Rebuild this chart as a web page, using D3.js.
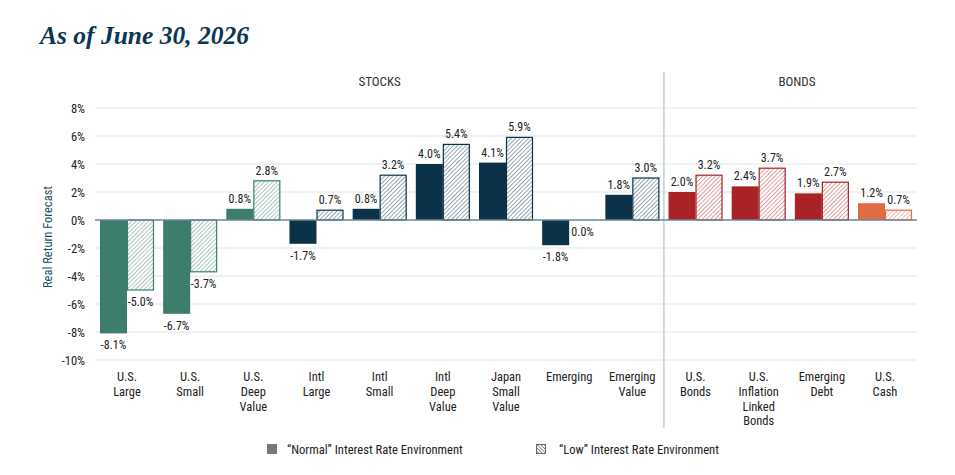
<!DOCTYPE html>
<html>
<head>
<meta charset="utf-8">
<script src="https://cdn.jsdelivr.net/npm/d3@7"></script>
<style>
  body { margin: 0; background: #fff; }
  svg { display: block; }
</style>
</head>
<body>
<div id="viz"></div>
<script>
let w = 955;
let h = 475;

// data
let categories = [
  ["U.S.", "Large"], ["U.S.", "Small"], ["U.S.", "Deep", "Value"], ["Intl", "Large"],
  ["Intl", "Small"], ["Intl", "Deep", "Value"], ["Japan", "Small", "Value"], ["Emerging"],
  ["Emerging", "Value"], ["U.S.", "Bonds"], ["U.S.", "Inflation", "Linked", "Bonds"],
  ["Emerging", "Debt"], ["U.S.", "Cash"]
];
let normalRates = [-8.1, -6.7, 0.8, -1.7, 0.8, 4.0, 4.1, -1.8, 1.8, 2.0, 2.4, 1.9, 1.2];
let lowRates = [-5.0, -3.7, 2.8, 0.7, 3.2, 5.4, 5.9, 0.0, 3.0, 3.2, 3.7, 2.7, 0.7];
let colorGroup = ["us", "us", "us", "intl", "intl", "intl", "intl", "intl", "intl", "bond", "bond", "bond", "cash"];
let yTicks = [8, 6, 4, 2, 0, -2, -4, -6, -8, -10];
let stockCount = 9;

let colors = { us: "#3c7d6b", intl: "#0c3249", bond: "#a82226", cash: "#e06c45" };

let svg = d3.select("#viz").append("svg")
  .attr("width", w)
  .attr("height", h);

let defs = svg.append("defs");
Object.keys(colors).forEach(function(k){
  let p = defs.append("pattern")
    .attr("id", "hatch-" + k)
    .attr("patternUnits", "userSpaceOnUse")
    .attr("width", 3)
    .attr("height", 3)
    .attr("patternTransform", "rotate(45)");
  p.append("rect").attr("width", 3).attr("height", 3).attr("fill", "#fff");
  p.append("line")
    .attr("x1", 0).attr("y1", 0).attr("x2", 0).attr("y2", 3)
    .attr("stroke", colors[k])
    .attr("stroke-width", 1.1)
    .attr("opacity", 0.8);
});
let lp = defs.append("pattern")
  .attr("id", "hatch-legend")
  .attr("patternUnits", "userSpaceOnUse")
  .attr("width", 2.5)
  .attr("height", 2.5)
  .attr("patternTransform", "rotate(-45)");
lp.append("rect").attr("width", 2.5).attr("height", 2.5).attr("fill", "#fff");
lp.append("line").attr("x1", 0).attr("y1", 0).attr("x2", 0).attr("y2", 2.5)
  .attr("stroke", "#555").attr("stroke-width", 1.3);

let font = "'Liberation Sans Narrow', 'Roboto Condensed', 'Arial Narrow', 'Liberation Sans', sans-serif";

// title
svg.append("text")
  .attr("x", 40)
  .attr("y", 44)
  .attr("font-family", "'Liberation Serif', 'DejaVu Serif', serif")
  .attr("font-style", "italic")
  .attr("font-weight", "bold")
  .attr("font-size", "25.5px")
  .attr("fill", "#0c3654")
  .text("As of June 30, 2026");

// scales
let xScale = d3.scaleBand()
  .domain(d3.range(categories.length))
  .range([95.4, 916.6])
  .paddingInner(0)
  .paddingOuter(0);

let yScale = d3.scaleLinear().domain([-10, 8]).range([360, 108]);

let barW = 27;

// grid
let gridGroup = svg.append("g").attr("class", "grid");
gridGroup.selectAll("line").data(yTicks).enter()
  .append("line")
    .attr("x1", 95)
    .attr("x2", 917)
    .attr("y1", d => yScale(d))
    .attr("y2", d => yScale(d))
    .attr("stroke", "#dbe5e8")
    .attr("stroke-width", 1.2);

// y axis labels
let yAxisGroup = svg.append("g").attr("class", "yAxisGroup");
yAxisGroup.selectAll("text").data(yTicks).enter()
  .append("text")
    .attr("x", 85)
    .attr("y", d => yScale(d) + 4.5)
    .attr("text-anchor", "end")
    .attr("font-family", font)
    .attr("font-size", "12.5px")
    .attr("fill", "#222")
    .text(d => d + "%");

svg.append("text")
  .attr("transform", "rotate(-90)")
  .attr("x", -237)
  .attr("y", 52)
  .attr("text-anchor", "middle")
  .attr("font-family", font)
  .attr("font-size", "12.5px")
  .attr("fill", "#1f4f68")
  .text("Real Return Forecast");

// divider between stocks and bonds
let divX = xScale(stockCount);
svg.append("line")
  .attr("x1", divX).attr("x2", divX)
  .attr("y1", 72).attr("y2", 428)
  .attr("stroke", "#c8cccd")
  .attr("stroke-width", 1.5);

svg.append("text")
  .attr("x", (xScale(0) + divX) / 2)
  .attr("y", 86)
  .attr("text-anchor", "middle")
  .attr("font-family", font)
  .attr("font-size", "13px")
  .attr("fill", "#333")
  .text("STOCKS");

svg.append("text")
  .attr("x", (divX + 930) / 2)
  .attr("y", 86)
  .attr("text-anchor", "middle")
  .attr("font-family", font)
  .attr("font-size", "13px")
  .attr("fill", "#333")
  .text("BONDS");

// bars
let barData = [];
categories.forEach(function(c, i){
  barData.push({ i: i, kind: "normal", v: normalRates[i], g: colorGroup[i] });
  barData.push({ i: i, kind: "low", v: lowRates[i], g: colorGroup[i] });
});

function barX(d){
  let c = xScale(d.i) + xScale.bandwidth() / 2;
  return d.kind == "normal" ? c - barW : c;
}

let barGroup = svg.append("g").attr("class", "bars");
barGroup.selectAll("rect").data(barData).enter()
  .append("rect")
    .attr("x", d => d.kind == "normal" ? barX(d) : barX(d) + 0.5)
    .attr("y", d => yScale(Math.max(0, d.v)))
    .attr("width", d => d.kind == "normal" ? barW : barW - 1)
    .attr("height", d => Math.abs(yScale(d.v) - yScale(0)))
    .attr("fill", d => d.kind == "normal" ? colors[d.g] : "url(#hatch-" + d.g + ")")
    .attr("stroke", d => d.kind == "normal" ? "none" : colors[d.g])
    .attr("stroke-width", 1.2);

// zero line
svg.append("line")
  .attr("x1", 95).attr("x2", 917)
  .attr("y1", yScale(0)).attr("y2", yScale(0))
  .attr("stroke", "#6d8b9a")
  .attr("stroke-width", 1.3);

// value labels
barGroup.selectAll(".val").data(barData).enter()
  .append("text")
    .attr("class", "val")
    .attr("x", d => barX(d) + barW / 2)
    .attr("y", d => d.v > 0 ? yScale(d.v) - 6 : yScale(d.v) + 16)
    .attr("text-anchor", "middle")
    .attr("font-family", font)
    .attr("font-size", "12px")
    .attr("fill", "#222")
    .text(d => d.v.toFixed(1) + "%");

// x labels
let xLabels = svg.append("g").attr("class", "xLabels");
xLabels.selectAll("text").data(categories).enter()
  .append("text")
    .attr("x", (d, i) => xScale(i) + xScale.bandwidth() / 2)
    .attr("y", 381)
    .attr("text-anchor", "middle")
    .attr("font-family", font)
    .attr("font-size", "12.5px")
    .attr("fill", "#222")
    .each(function(d){
      let t = d3.select(this);
      d.forEach(function(line, j){
        t.append("tspan")
          .attr("x", t.attr("x"))
          .attr("dy", j == 0 ? 0 : 14.8)
          .text(line);
      });
    });

// legend
let legend = svg.append("g").attr("class", "legend");
legend.append("rect")
  .attr("x", 267).attr("y", 444).attr("width", 10).attr("height", 10)
  .attr("fill", "#777");
legend.append("text")
  .attr("x", 287).attr("y", 453.5)
  .attr("font-family", font).attr("font-size", "12.6px").attr("fill", "#222")
  .text("\u201CNormal\u201D Interest Rate Environment");
legend.append("rect")
  .attr("x", 536.5).attr("y", 444.5).attr("width", 9).attr("height", 9)
  .attr("fill", "url(#hatch-legend)")
  .attr("stroke", "#666").attr("stroke-width", 1);
legend.append("text")
  .attr("x", 559).attr("y", 453.5)
  .attr("font-family", font).attr("font-size", "12.6px").attr("fill", "#222")
  .text("\u201CLow\u201D Interest Rate Environment");
</script>
</body>
</html>
